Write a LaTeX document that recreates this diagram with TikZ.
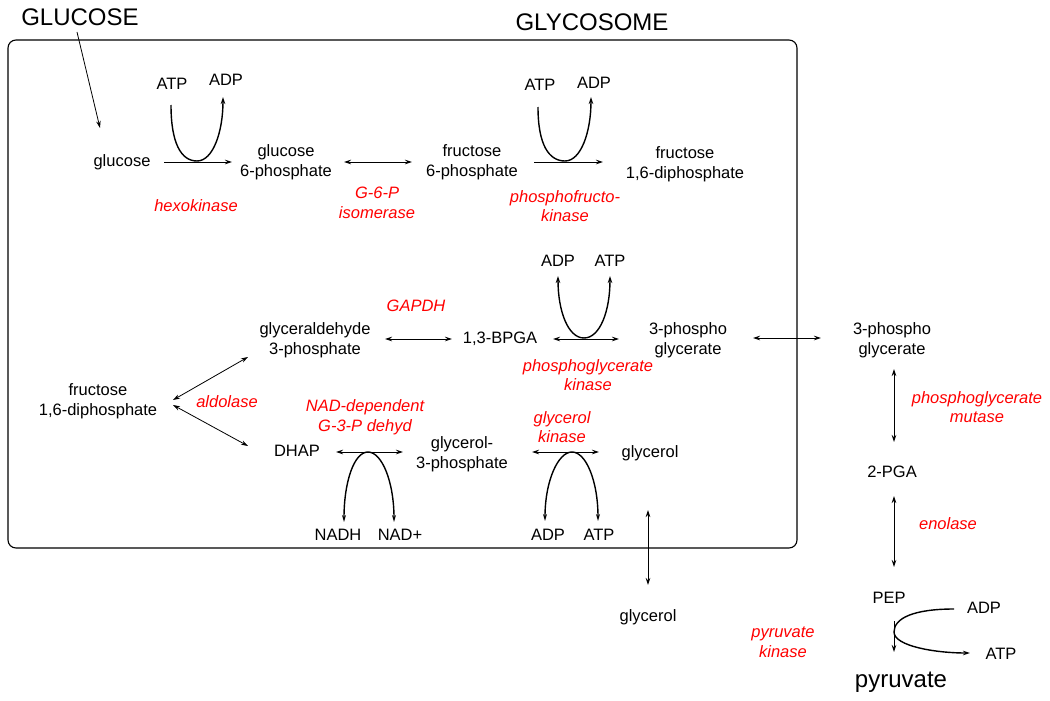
\documentclass[tikz,border=0pt]{standalone}
\usepackage{fontspec}
\setmainfont{Liberation Sans}
\usetikzlibrary{arrows.meta,calc}
\newcommand\lbf{\fontsize{16.5}{19.5}\selectfont}
\newcommand\bgf{\fontsize{24}{28}\selectfont}
\tikzset{
  lbl/.style={inner sep=0pt,align=center,font=\lbf},
  enz/.style={inner sep=0pt,align=center,text=red,font=\lbf\itshape},
  big/.style={inner sep=0pt,font=\bgf},
  tip/.tip={Stealth[length=7pt,width=4.5pt]},
  otip/.tip={Stealth[length=7pt,width=4pt,open]},
  arr/.style={line width=0.8pt,-tip},
  darr/.style={line width=0.8pt,tip-tip},
  cof/.style={line width=1.4pt},
  boxline/.style={line width=1.1pt,rounded corners=8pt},
}
\begin{document}
\begin{tikzpicture}[x=1pt,y=-1pt]
\useasboundingbox (0,0) rectangle (1050,701);
\draw[boxline] (8,40) rectangle (797,548);

% titles
\node[big] (GLU) at (80,17) {GLUCOSE};
\node[big] (GLY) at (592,22) {GLYCOSOME};
\node[big] (pyr) at (901,682) {pyruvate};

% row 1
\node[lbl] (glc) at (122,162) {glucose};
\node[lbl] (g6p) at (286,162) {glucose\\6-phosphate};
\node[lbl] (f6p) at (472,162) {fructose\\6-phosphate};
\node[lbl] (f16) at (685,164) {fructose\\1,6-diphosphate};
\node[lbl] (atp1) at (172,84) {ATP};
\node[lbl] (adp1) at (226,80) {ADP};
\node[lbl] (atp2) at (540,85) {ATP};
\node[lbl] (adp2) at (594,83) {ADP};
\node[enz] (hexo) at (196,206) {hexokinase};
\node[enz] (g6pi) at (377,203) {G-6-P\\isomerase};
\node[enz] (pfk) at (565,206) {phosphofructo-\\kinase};

% row 2
\node[lbl] (f16b) at (98,401) {fructose\\1,6-diphosphate};
\node[enz] (ald) at (227,402) {aldolase};
\node[lbl] (ga3p) at (315,340) {glyceraldehyde\\3-phosphate};
\node[enz] (gapdh) at (416,306) {GAPDH};
\node[lbl] (bpga) at (500,339) {1,3-BPGA};
\node[lbl] (adp3) at (558,261) {ADP};
\node[lbl] (atp3) at (610,261) {ATP};
\node[enz] (pgk) at (588,375) {phosphoglycerate\\kinase};
\node[lbl] (pg3) at (688,340) {3-phospho\\glycerate};

% outside
\node[lbl] (pg3o) at (892,340) {3-phospho\\glycerate};
\node[enz] (pgm) at (977,407) {phosphoglycerate\\mutase};
\node[lbl] (pga2) at (892,472) {2-PGA};
\node[enz] (eno) at (948,524) {enolase};
\node[lbl] (pep) at (889,598) {PEP};
\node[lbl] (adp5) at (984,608) {ADP};
\node[lbl] (atp5) at (1001,654) {ATP};
\node[enz] (pk) at (783,642) {pyruvate\\kinase};

% row 3
\node[lbl] (dhap) at (297,451) {DHAP};
\node[enz] (nadgd) at (365,417) {NAD-dependent\\G-3-P dehyd};
\node[lbl] (g3p) at (462,454) {glycerol-\\3-phosphate};
\node[lbl] (nadh) at (338,535) {NADH};
\node[lbl] (nadp) at (400,535) {NAD+};
\node[enz] (gk) at (562,427) {glycerol\\kinase};
\node[lbl] (gly) at (650,453) {glycerol};
\node[lbl] (adp4) at (548,535) {ADP};
\node[lbl] (atp4) at (599,535) {ATP};
\node[lbl] (glyo) at (648,617) {glycerol};

% connectors row 1
\draw[arr] ($(GLU)+(-3,15)$) -- ($(glc)+(-22,-34)$);
\draw[arr] ($(glc)+(42,0)$) -- ($(g6p)+(-54,0)$);
\draw[darr] ($(g6p)+(58,0)$) -- ($(f6p)+(-60,0)$);
\draw[arr] ($(f6p)+(62,0)$) -- ($(f16)+(-82,-2)$);
\draw[cof,-tip] ($(atp1)+(-1,21)$) .. controls +(0,38) and +(-16,0) .. ($(atp1)+(25,77)$)
   .. controls +(16,0) and +(0,35) .. ($(adp1)+(-3,17)$);
\draw[cof,-tip] ($(atp2)+(-2,22)$) .. controls +(0,38) and +(-16,0) .. ($(atp2)+(25,76)$)
   .. controls +(16,0) and +(0,35) .. ($(adp2)+(-3,14)$);

% row 2
\draw[darr] ($(f16b)+(75,-1)$) -- ($(ga3p)+(-67,17)$);
\draw[darr] ($(f16b)+(75,4)$) -- ($(dhap)+(-49,-5)$);
\draw[darr] ($(ga3p)+(70,-1)$) -- ($(bpga)+(-48,0)$);
\draw[darr] ($(bpga)+(53,0)$) -- ($(pg3)+(-69,-1)$);
\draw[cof,tip-tip] ($(adp3)+(0,15)$) .. controls +(0,35) and +(-16,0) .. ($(bpga)+(84,-1)$)
   .. controls +(16,0) and +(0,35) .. ($(atp3)+(0,15)$);
\draw[darr] ($(pg3)+(65,-2)$) -- ($(pg3o)+(-71,-2)$);

% outside pathway
\draw[darr] ($(pg3o)+(2,29)$) -- ($(pga2)+(2,-30)$);
\draw[darr] ($(pga2)+(2,24)$) -- ($(pep)+(5,-31)$);
\draw[arr] ($(pep)+(5,23)$) -- ($(pyr)+(-7,-30)$);
\draw[cof,-tip] ($(adp5)+(-30,1)$) .. controls +(-40,0) and +(0,-14) .. ($(pep)+(5,34)$)
   .. controls +(0,14) and +(-35,0) .. ($(atp5)+(-31,-1)$);

% row 3
\draw[darr] ($(dhap)+(39,1)$) -- ($(g3p)+(-59,-2)$);
\draw[cof,otip-otip] ($(nadh)+(6,-13)$) .. controls +(0,-40) and +(-14,0) .. ($(dhap)+(71,1)$)
   .. controls +(14,0) and +(0,-40) .. ($(nadp)+(-6,-13)$);
\draw[darr] ($(g3p)+(70,-2)$) -- ($(gly)+(-51,-1)$);
\draw[cof,otip-otip] ($(adp4)+(-3,-14)$) .. controls +(0,-40) and +(-14,0) .. ($(g3p)+(110,-2)$)
   .. controls +(14,0) and +(0,-40) .. ($(atp4)+(-1,-14)$);
\draw[darr] ($(gly)+(-2,57)$) -- ($(glyo)+(0,-32)$);
\end{tikzpicture}
\end{document}
